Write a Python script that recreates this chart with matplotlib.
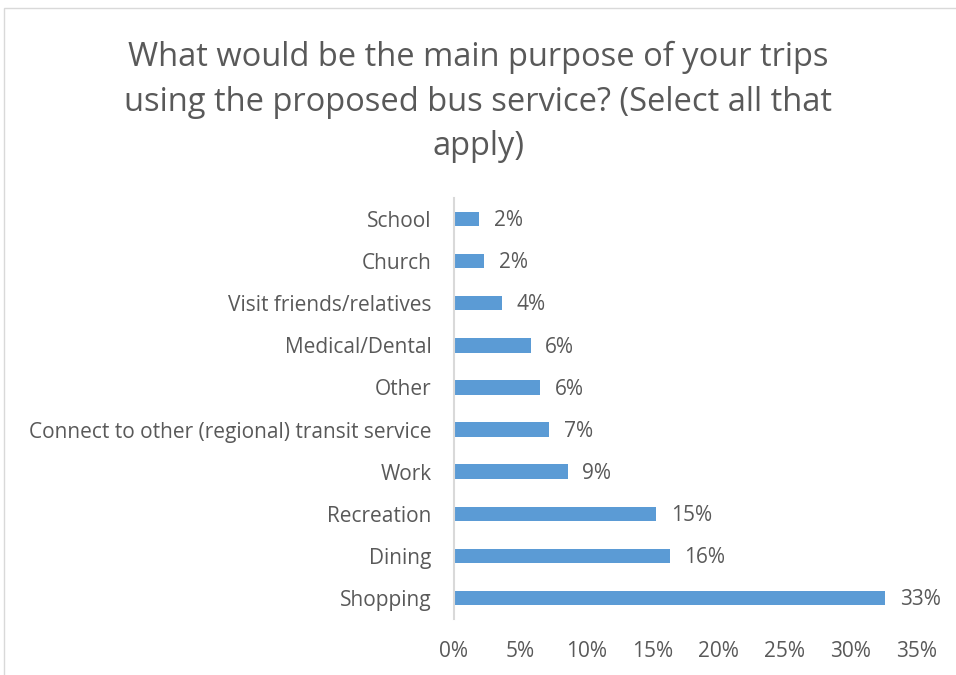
import matplotlib.pyplot as plt
from matplotlib.patches import Rectangle
from matplotlib.ticker import PercentFormatter

# Survey responses (share of respondents), listed top to bottom
purposes = ['School', 'Church', 'Visit friends/relatives', 'Medical/Dental', 'Other',
            'Connect to other (regional) transit service', 'Work', 'Recreation',
            'Dining', 'Shopping']
shares = [0.019, 0.023, 0.036, 0.058, 0.065, 0.072, 0.086, 0.153, 0.163, 0.326]
x_ticks = [0, 0.05, 0.10, 0.15, 0.20, 0.25, 0.30, 0.35]

plt.rcParams['font.family'] = ['Open Sans', 'DejaVu Sans']
text_color = '#595959'

fig = plt.figure(figsize=(9.56, 6.75), dpi=100)
ax = fig.add_axes([454 / 956, 1 - 619 / 675, (917 - 454) / 956, (619 - 198) / 675])

# chart border
fig.add_artist(Rectangle((4 / 956, -0.01), 1.0, 1 - 8 / 675 + 0.01, transform=fig.transFigure,
                         fill=False, edgecolor='#d9d9d9', linewidth=1.0))

pos = list(range(len(purposes)))
ax.barh(pos, shares, height=0.34, color='#5b9bd5')
for y, v in zip(pos, shares):
    ax.text(v + 0.011, y + 0.04, f'{v:.0%}', va='center', ha='left', fontsize=15, color=text_color)

ax.set_ylim(len(purposes) - 0.5, -0.5)
ax.set_xlim(0, 0.35)
ax.set_yticks(pos)
ax.set_yticklabels(purposes)
ax.set_xticks(x_ticks)
ax.xaxis.set_major_formatter(PercentFormatter(1.0, decimals=0))
ax.tick_params(axis='both', length=0, labelsize=15, labelcolor=text_color)
ax.tick_params(axis='y', pad=16)
ax.tick_params(axis='x', pad=16)

for side in ['top', 'right', 'bottom']:
    ax.spines[side].set_visible(False)
ax.spines['left'].set_color('#d9d9d9')
ax.spines['left'].set_linewidth(1.5)

fig.text(0.5, 1 - 102 / 675,
         'What would be the main purpose of your trips\nusing the proposed bus service? (Select all that\napply)',
         ha='center', va='center', fontsize=23.5, color=text_color, linespacing=1.45)

fig.savefig('out.png', dpi=100)
